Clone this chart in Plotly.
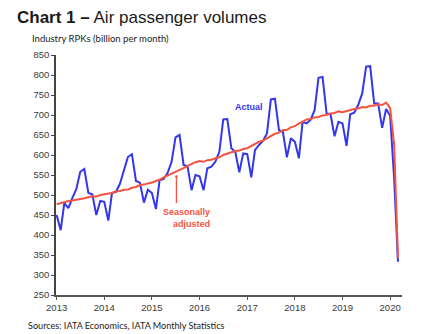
import pandas as pd
import plotly.graph_objects as go

# ---- data (billion RPKs per month), Jan 2013 .. Mar 2020 ----
start_month = "2013-01-01"
actual = [
    450, 412, 480, 467, 492, 515, 558, 565, 505, 502, 450, 485,   # 2013
    483, 436, 505, 508, 528, 562, 595, 602, 535, 531, 481, 513,   # 2014
    505, 465, 537, 540, 555, 583, 644, 650, 575, 572, 512, 550,   # 2015
    547, 512, 567, 571, 583, 608, 689, 690, 617, 608, 557, 604,   # 2016
    602, 544, 612, 625, 635, 654, 739, 741, 662, 658, 594, 642,   # 2017
    633, 592, 683, 679, 688, 712, 793, 795, 704, 702, 647, 683,   # 2018
    679, 623, 702, 706, 725, 754, 821, 822, 729, 729, 668, 715,   # 2019
    698, 540, 333,                                                # 2020
]
seasonally_adjusted = [
    477, 480, 481, 485, 486, 489, 490, 492, 494, 497, 496, 500,   # 2013
    502, 504, 505, 509, 510, 513, 514, 518, 520, 525, 526, 529,   # 2014
    531, 535, 538, 544, 548, 554, 558, 563, 567, 573, 578, 582,   # 2015
    585, 583, 587, 588, 592, 594, 600, 604, 606, 610, 611, 615,   # 2016
    617, 623, 627, 633, 636, 642, 646, 653, 656, 662, 663, 669,   # 2017
    672, 679, 683, 689, 690, 694, 695, 699, 700, 704, 705, 709,   # 2018
    707, 710, 711, 715, 716, 720, 719, 723, 723, 727, 725, 731,   # 2019
    718, 625, 343,                                                # 2020
]
months = pd.date_range(start_month, periods=len(actual), freq="MS")

year_ticks = ["2013", "2014", "2015", "2016", "2017", "2018", "2019", "2020"]
y_ticks = list(range(250, 851, 50))

BLUE = "#3236ec"
RED = "#f4533f"
TICK = "#3a3a3a"

fig = go.Figure()
fig.add_trace(go.Scatter(x=months, y=actual, mode="lines",
                         line=dict(color=BLUE, width=2), name="Actual"))
fig.add_trace(go.Scatter(x=months, y=seasonally_adjusted, mode="lines",
                         line=dict(color=RED, width=2), name="Seasonally adjusted"))

fig.update_layout(
    width=428, height=334,
    margin=dict(l=56, r=26, t=55, b=39),
    paper_bgcolor="white", plot_bgcolor="white",
    showlegend=False,
    title=dict(
        text="<b>Chart 1 –</b> Air passenger volumes",
        font=dict(family="Liberation Sans, Arial", size=17, color="#1a1a1a"),
        x=17 / 428, xanchor="left", xref="container",
        y=1 - 17 / 334, yanchor="middle", yref="container",
    ),
    font=dict(family="Liberation Sans, Arial", size=9.5, color=TICK),
)

fig.update_xaxes(
    type="date",
    range=["2012-12-27", "2020-04-01"],
    tickvals=[pd.Timestamp(y + "-01-01") for y in year_ticks],
    ticktext=year_ticks,
    showgrid=False, zeroline=False,
    showline=True, linecolor="#555555", linewidth=1.5,
    ticks="outside", ticklen=3, tickcolor="#555555",
    tickfont=dict(family="Liberation Sans, Arial", size=9.5, color=TICK),
)
fig.update_yaxes(
    range=[250, 850],
    tickvals=y_ticks,
    showgrid=False, zeroline=False,
    showline=True, linecolor="#444444", linewidth=1.5,
    ticks="outside", ticklen=3, tickcolor="#444444",
    tickfont=dict(family="Liberation Sans, Arial", size=9.5, color=TICK),
)

# y-axis caption
fig.add_annotation(text="Industry RPKs (billion per month)",
                   xref="paper", yref="paper",
                   x=(30 - 56) / 346, y=(295 - 38) / 240,
                   xanchor="left", yanchor="middle", showarrow=False,
                   font=dict(family="Lato", size=9.5, color="#222222"))
# source line
fig.add_annotation(text="Sources: IATA Economics, IATA Monthly Statistics",
                   xref="paper", yref="paper",
                   x=(26 - 56) / 346, y=(295 - 325) / 240,
                   xanchor="left", yanchor="middle", showarrow=False,
                   font=dict(family="Lato", size=9.1, color="#222222"))
# series labels
fig.add_annotation(text="<b>Actual</b>", x="2017-01-12", y=720,
                   xanchor="center", yanchor="middle", showarrow=False,
                   font=dict(family="Liberation Sans, Arial", size=9, color=BLUE))
fig.add_annotation(text="<b>Seasonally<br>adjusted</b>", x="2016-04-06", y=442,
                   xanchor="right", yanchor="middle", align="right", showarrow=False,
                   font=dict(family="Liberation Sans, Arial", size=9, color=RED))
fig.add_annotation(text="", x="2015-07-08", y=546, ax=0, ay=28,
                   showarrow=True, arrowhead=6, arrowsize=0.5, arrowwidth=1.3,
                   arrowcolor=RED)

fig.write_html("out.html")
